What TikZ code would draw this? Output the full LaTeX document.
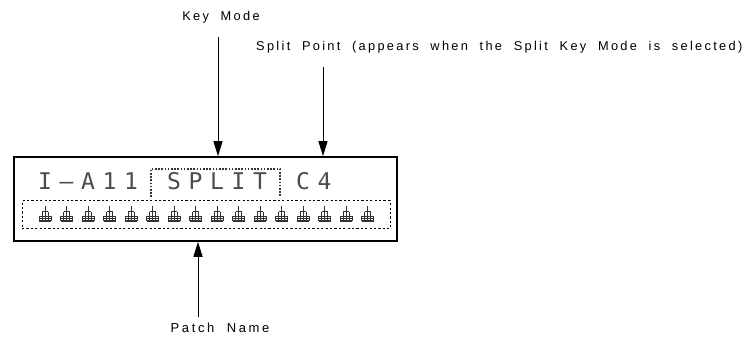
\documentclass[tikz,border=0pt]{standalone}
\usepackage{fontspec}
\setmainfont{Liberation Sans}
\newfontfamily\lcdfont{DejaVu Sans Mono}
\usetikzlibrary{arrows.meta}
\tikzset{
  lbl/.style={font=\fontsize{12.8}{13}\selectfont\addfontfeature{LetterSpace=18}, inner sep=0pt},
  lbllarge/.style={font=\fontsize{13}{14}\selectfont\addfontfeature{LetterSpace=20}, inner sep=0pt},
  lcdchar/.style={font=\lcdfont\fontsize{23}{23}\selectfont, text=black!70, inner sep=0pt, anchor=base},
  ptr/.style={line width=1pt, -{Triangle[length=15pt,width=9pt]}},
  lcdframe/.style={draw, line width=1.6pt, minimum width=383pt, minimum height=84pt, inner sep=0pt},
  dotline/.style={line width=1.1pt, black!80, dash pattern=on 1.6pt off 1.6pt},
  patchfield/.style={draw, line width=1pt, dash pattern=on 2.2pt off 2.2pt, minimum width=368pt, minimum height=28pt, inner sep=0pt},
  patchglyph/.pic={
    \draw[line width=1pt, black!80] (0,-8) -- (0,7);
    \draw[line width=1pt, black!80] (-3,-2) -- (3,-2) (-3,-2) -- (-3,7) (3,-2) -- (3,7);
    \draw[line width=1pt, black!80] (-6,2.5) -- (6,2.5) (-6,2.5) -- (-6,7) (6,2.5) -- (6,7);
    \draw[line width=1pt, black!80] (-6,5) -- (6,5);
    \draw[line width=1.4pt, black!80] (-6,7) -- (6,7);
  }
}
\begin{document}
\begin{tikzpicture}[x=1pt,y=-1pt]
\useasboundingbox (0,0) rectangle (748,339);
% display frame
\node[lcdframe] (lcd) at (205.5,199) {};
\node[patchfield] (field) at (206,215) {};
% top row characters
\foreach \c/\i [count=\n] in {I/0, {\textendash}/1, A/2, 1/3, 1/4, S/6, P/7, L/8, I/9, T/10, C/12, 4/13}{
  \node[lcdchar] (ch\n) at ({45+21.5*\i},190) {\c};
}
% bracket around SPLIT
\draw[dotline] (151,197) -- (151,169) -- (280,169) -- (280,197);
% patch name placeholder glyphs
\foreach \i in {0,...,15}{
  \pic at ({45+21.5*\i},214) {patchglyph};
}
% labels
\node[lbl, anchor=base] (keymode) at (221,21) {Key\ \ Mode};
\node[lbl, anchor=base west] (splitpt) at (256,51) {Split\ \ Point\ \ (appears\ \ when\ \ the\ \ Split\ \ Key\ \ Mode\ \ is\ \ selected)};
\node[lbllarge, anchor=base] (patchname) at (220,333) {Patch\ \ Name};
% arrows
\coordinate (kmtop) at (218,37);
\coordinate (sptop) at (323,67);
\coordinate (pnbot) at (198,317);
\draw[ptr] (kmtop) -- (kmtop |- lcd.north);
\draw[ptr] (sptop) -- (sptop |- lcd.north);
\draw[ptr] (pnbot) -- (pnbot |- lcd.south);
\end{tikzpicture}
\end{document}
